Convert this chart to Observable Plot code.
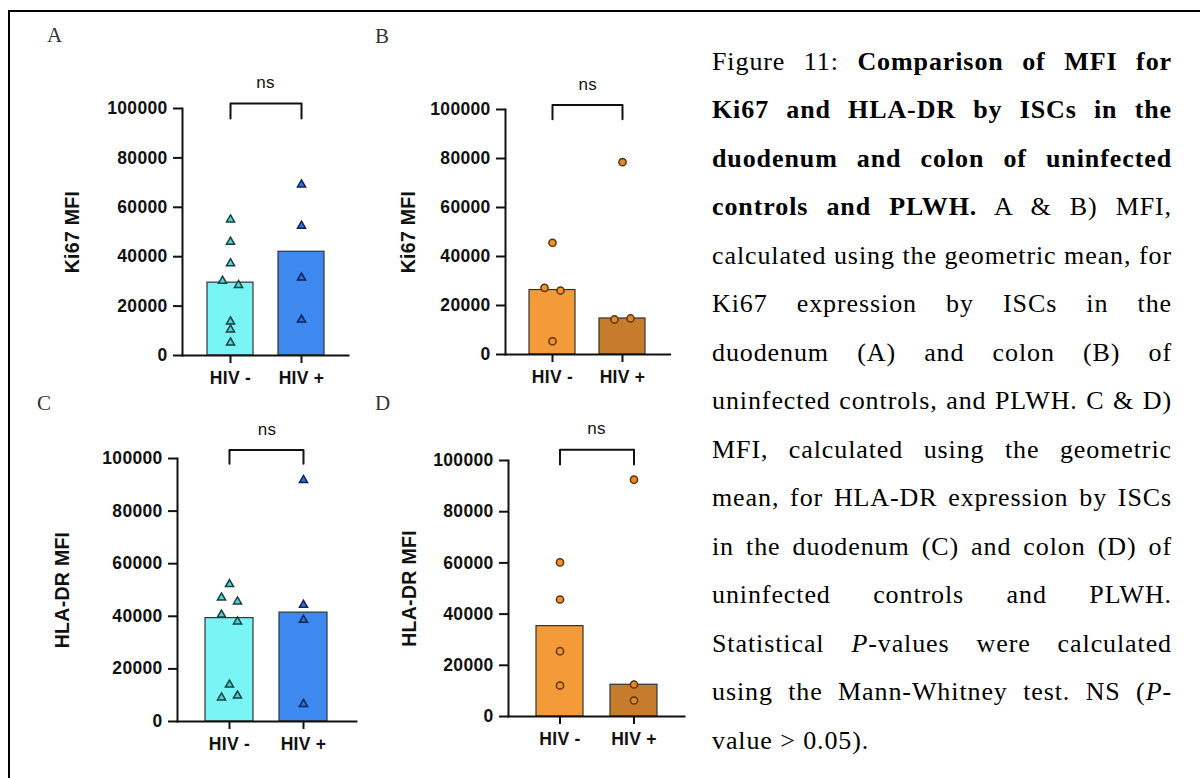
<!DOCTYPE html>
<html>
<head>
<meta charset="utf-8">
<script src="https://cdn.jsdelivr.net/npm/d3@7"></script>
<script src="https://cdn.jsdelivr.net/npm/@observablehq/plot@0.6"></script>
<style>
  html, body { margin: 0; padding: 0; background: #fff; }
  #page { position: relative; width: 1200px; height: 778px; overflow: hidden; background: #fff; }
  #border { position: absolute; left: 8px; top: 10px; width: 1300px; height: 900px;
            border-top: 2px solid #000; border-left: 2px solid #000; }
  .panel { position: absolute; }
  .letter { position: absolute; font-family: "Liberation Serif", "Times New Roman", serif;
            font-size: 21px; line-height: 1; color: #333; }
  #caption { position: absolute; left: 712px; top: 37.5px; width: 460px;
             font-family: "Liberation Serif", "Times New Roman", serif;
             font-size: 26px; line-height: 48.5px; letter-spacing: 0.9px; color: #000; }
  #caption div { text-align: justify; text-align-last: justify; }
  #caption div.last { text-align-last: left; }
</style>
</head>
<body>
<div id="page">
  <div id="border"></div>
  <div id="caption"></div>
</div>
<script>
// ---------- data ----------
const groups = ["HIV -", "HIV +"];
const yTicks = [0, 20000, 40000, 60000, 80000, 100000];
const panelLetters = ["A", "B", "C", "D"];
const yLabels = ["Ki67 MFI", "Ki67 MFI", "HLA-DR MFI", "HLA-DR MFI"];
const sigLabel = "ns";
const bracketTop = [102000, 101800, 103200, 104200];
const bracketLeg = [96000, 96000, 98000, 98400];

// Panel A: Ki67 MFI, duodenum
const aBars = [29500, 42000];
const aNeg = [55000, 46000, 37300, 30200, 28500, 13700, 10500, 5200];
const aNegSide = ["C", "C", "C", "L", "R", "C", "C", "C"];
const aPos = [69200, 52500, 31500, 14500];
const aPosSide = ["C", "C", "C", "C"];

// Panel B: Ki67 MFI, colon
const bBars = [26300, 14700];
const bNeg = [45600, 27200, 26100, 5400];
const bNegSide = ["C", "L", "R", "C"];
const bPos = [78500, 14300, 14700];
const bPosSide = ["C", "L", "R"];

// Panel C: HLA-DR MFI, duodenum
const cBars = [39300, 41400];
const cNeg = [52200, 47100, 45600, 40600, 38000, 14000, 9100, 9800];
const cNegSide = ["C", "L", "R", "L", "R", "C", "L", "R"];
const cPos = [91800, 44300, 38600, 6600];
const cPosSide = ["C", "C", "C", "C"];

// Panel D: HLA-DR MFI, colon
const dBars = [35300, 12400];
const dNeg = [60200, 45700, 25500, 12100];
const dNegSide = ["C", "C", "C", "C"];
const dPos = [92500, 12500, 6250];
const dPosSide = ["C", "C", "C"];

// caption lines
const captionLines = [
  'Figure 11: <b>Comparison of MFI for</b>',
  '<b>Ki67 and HLA-DR by ISCs in the</b>',
  '<b>duodenum and colon of uninfected</b>',
  '<b>controls and PLWH.</b> A &amp; B) MFI,',
  'calculated using the geometric mean, for',
  'Ki67 expression by ISCs in the',
  'duodenum (A) and colon (B) of',
  'uninfected controls, and PLWH. C &amp; D)',
  'MFI, calculated using the geometric',
  'mean, for HLA-DR expression by ISCs',
  'in the duodenum (C) and colon (D) of',
  'uninfected controls and PLWH.',
  'Statistical <i>P</i>-values were calculated',
  'using the Mann-Whitney test. NS (<i>P</i>-',
  'value &gt; 0.05).'
];

// ---------- styles / layout ----------
const triStyle = { neg: { fill: "#4fd3d3", stroke: "#173f3f" }, pos: { fill: "#2d72e0", stroke: "#0c2250" } };
const circStyle = { neg: { fill: "#f0952e", stroke: "#5c3107" }, pos: { fill: "#de8a2a", stroke: "#5c3107" } };
const barsTri = ["#7af5f5", "#3d89ef"];
const barsCirc = ["#f29b38", "#c77b2c"];

const panels = [
  { bars: aBars, neg: aNeg, negSide: aNegSide, pos: aPos, posSide: aPosSide, symbol: "triangle",
    geo: { ax: 182, ex: 348, ty: 108, by: 355, pi: 0.356, po: 0.34, labelDx: -110, lx: 47, ltop: 25.4 } },
  { bars: bBars, neg: bNeg, negSide: bNegSide, pos: bPos, posSide: bPosSide, symbol: "circle",
    geo: { ax: 505, ex: 669.6, ty: 109.3, by: 354.3, pi: 0.343, po: 0.347, labelDx: -97, lx: 375, ltop: 26.4 } },
  { bars: cBars, neg: cNeg, negSide: cNegSide, pos: cPos, posSide: cPosSide, symbol: "triangle",
    geo: { ax: 176.7, ex: 355.6, ty: 457.7, by: 720.7, pi: 0.345, po: 0.376, labelDx: -115, lx: 37, ltop: 393.4 } },
  { bars: dBars, neg: dNeg, negSide: dNegSide, pos: dPos, posSide: dPosSide, symbol: "circle",
    geo: { ax: 508.3, ex: 684.3, ty: 460, by: 716, pi: 0.37, po: 0.367, labelDx: -99, lx: 375, ltop: 393.4 } }
];

const page = document.getElementById("page");
const sideDx = { L: -8, C: 0, R: 8 };

panels.forEach((p, i) => {
  const g = p.geo;
  const mL = 150, mR = 12, mT = 70, mB = 45;
  const width = mL + (g.ex - g.ax) + mR;
  const height = mT + (g.by - g.ty) + mB;

  const barData = groups.map((grp, k) => ({ g: grp, v: p.bars[k], c: (p.symbol === "triangle" ? barsTri : barsCirc)[k] }));
  const pts = [
    ...p.neg.map((v, k) => ({ g: groups[0], v, side: p.negSide[k], key: "neg" })),
    ...p.pos.map((v, k) => ({ g: groups[1], v, side: p.posSide[k], key: "pos" }))
  ];
  const st = p.symbol === "triangle" ? triStyle : circStyle;
  const r = p.symbol === "triangle" ? 3.0 : 3.6;
  const dotMarks = ["L", "C", "R"].map(s =>
    Plot.dot(pts.filter(d => d.side === s), {
      x: "g", y: "v", symbol: p.symbol, r,
      fill: d => st[d.key].fill, stroke: d => st[d.key].stroke, strokeWidth: 1.5,
      dx: sideDx[s]
    })
  );
  const bracket = [
    { g: groups[0], v: bracketLeg[i] }, { g: groups[0], v: bracketTop[i] },
    { g: groups[1], v: bracketTop[i] }, { g: groups[1], v: bracketLeg[i] }
  ];

  const chart = Plot.plot({
    width, height, marginLeft: mL, marginRight: mR, marginTop: mT, marginBottom: mB,
    x: { domain: groups, paddingInner: g.pi, paddingOuter: g.po, axis: null },
    y: { domain: [0, 100000], axis: null },
    color: { type: "identity" },
    style: { fontFamily: "'Liberation Sans', Arial, sans-serif", fontSize: "17.5px", fontWeight: "bold",
             letterSpacing: "0.3px", color: "#111", background: "transparent", overflow: "visible" },
    marks: [
      Plot.barY(barData, { x: "g", y: "v", fill: "c", stroke: "#333", strokeWidth: 1.2 }),
      ...dotMarks,
      Plot.frame({ anchor: "left", stroke: "#111", strokeWidth: 2 }),
      Plot.frame({ anchor: "bottom", stroke: "#111", strokeWidth: 2 }),
      Plot.axisY({ ticks: yTicks, tickSize: 9, tickPadding: 6, tickFormat: d => String(d),
                   strokeWidth: 2, label: null }),
      Plot.axisX({ tickSize: 8, tickPadding: 8, strokeWidth: 2, label: null }),
      Plot.line(bracket, { x: "g", y: "v", stroke: "#111", strokeWidth: 2 }),
      Plot.text([{ t: sigLabel, v: bracketTop[i] }], { text: "t", y: "v", dy: -21,
                   fontWeight: "normal", fontSize: 17, textAnchor: "middle" }),
      Plot.text([yLabels[i]], { frameAnchor: "left", dx: g.labelDx, rotate: -90,
                   textAnchor: "middle", fontSize: 19.5, fontWeight: "bold" })
    ]
  });
  chart.classList.add("panel");
  chart.style.left = (g.ax - mL) + "px";
  chart.style.top = (g.ty - mT) + "px";
  chart.style.maxWidth = "none";
  page.appendChild(chart);

  const letter = document.createElement("div");
  letter.className = "letter";
  letter.textContent = panelLetters[i];
  letter.style.left = g.lx + "px";
  letter.style.top = g.ltop + "px";
  page.appendChild(letter);
});

const cap = document.getElementById("caption");
captionLines.forEach((ln, k) => {
  const d = document.createElement("div");
  d.innerHTML = ln;
  if (k === captionLines.length - 1) d.className = "last";
  cap.appendChild(d);
});
</script>
</body>
</html>
